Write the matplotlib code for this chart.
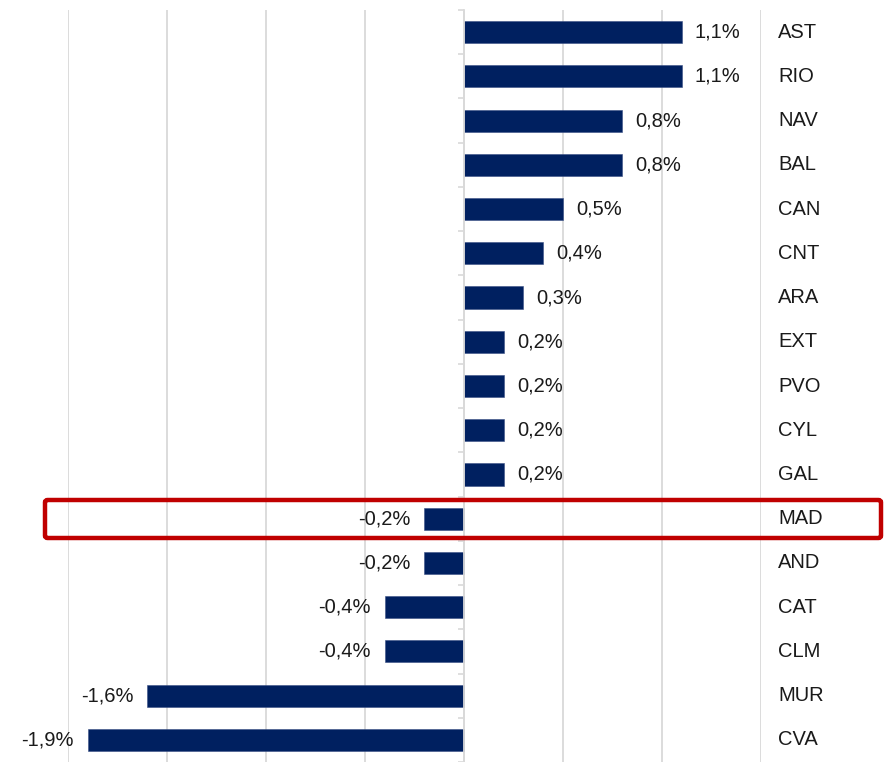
import matplotlib.pyplot as plt
from matplotlib.patches import FancyBboxPatch
import numpy as np

plt.rcParams['font.family'] = ['Liberation Sans', 'DejaVu Sans']

regions = ['AST', 'RIO', 'NAV', 'BAL', 'CAN', 'CNT', 'ARA', 'EXT', 'PVO',
           'CYL', 'GAL', 'MAD', 'AND', 'CAT', 'CLM', 'MUR', 'CVA']
values = [1.1, 1.1, 0.8, 0.8, 0.5, 0.4, 0.3, 0.2, 0.2,
          0.2, 0.2, -0.2, -0.2, -0.4, -0.4, -1.6, -1.9]
highlight = 'MAD'

bar_color = '#002060'
grid_color = '#d9d9d9'

fig = plt.figure(figsize=(8.94, 7.62), dpi=100)
ax = fig.add_axes([68/894, 0, (761-68)/894, 1 - 10/762])

y = np.arange(len(regions))
ax.barh(y, values, height=0.5, color=bar_color, edgecolor='#3a4f85', linewidth=0.4, zorder=3)

ax.set_xlim(-2.0, 1.5)
ax.set_ylim(len(regions) - 0.5, -0.5)

# vertical gridlines every 0.5%
ax.set_xticks(np.arange(-2.0, 1.51, 0.5))
ax.tick_params(axis='x', bottom=False, labelbottom=False)
ax.grid(axis='x', color=grid_color, linewidth=1.3, zorder=0)

for s in ['top', 'bottom', 'right']:
    ax.spines[s].set_visible(False)
ax.spines['left'].set_position(('data', 0))
ax.spines['left'].set_color(grid_color)
ax.spines['left'].set_linewidth(1.3)
ax.spines['left'].set_zorder(4)

# category labels on the right, small ticks on the zero line
ax.set_yticks(y)
ax.set_yticklabels(regions, fontsize=14.5, va='center')
ax.set_yticks(np.arange(-0.5, len(regions), 1), minor=True)
ax.tick_params(axis='y', which='major', left=False, right=False,
               labelleft=False, labelright=True, pad=9, labelcolor='#1a1a1a')
ax.tick_params(axis='y', which='minor', left=True, right=False, length=4,
               width=1.2, color=grid_color, direction='out')
for lbl in ax.get_yticklabels():
    lbl.set_y(lbl.get_position()[1])

for yi, v in zip(y, values):
    txt = f'{v:.1f}%'.replace('.', ',')
    if v >= 0:
        ax.annotate(txt, (v, yi), xytext=(9.5, 0), textcoords='offset points',
                    ha='left', va='center', fontsize=14.5, color='#1a1a1a')
    else:
        ax.annotate(txt, (v, yi), xytext=(-10, 0), textcoords='offset points',
                    ha='right', va='center', fontsize=14.5, color='#1a1a1a')

# red box around highlighted row
hi = regions.index(highlight)
box = FancyBboxPatch((45/894, (762-538)/762), (881-45)/894, 38/762,
                     boxstyle='round,pad=0,rounding_size=0.003',
                     transform=fig.transFigure, fill=False,
                     edgecolor='#c00000', linewidth=3.2, zorder=10)
fig.patches.append(box)

fig.savefig('out.png', dpi=100)
